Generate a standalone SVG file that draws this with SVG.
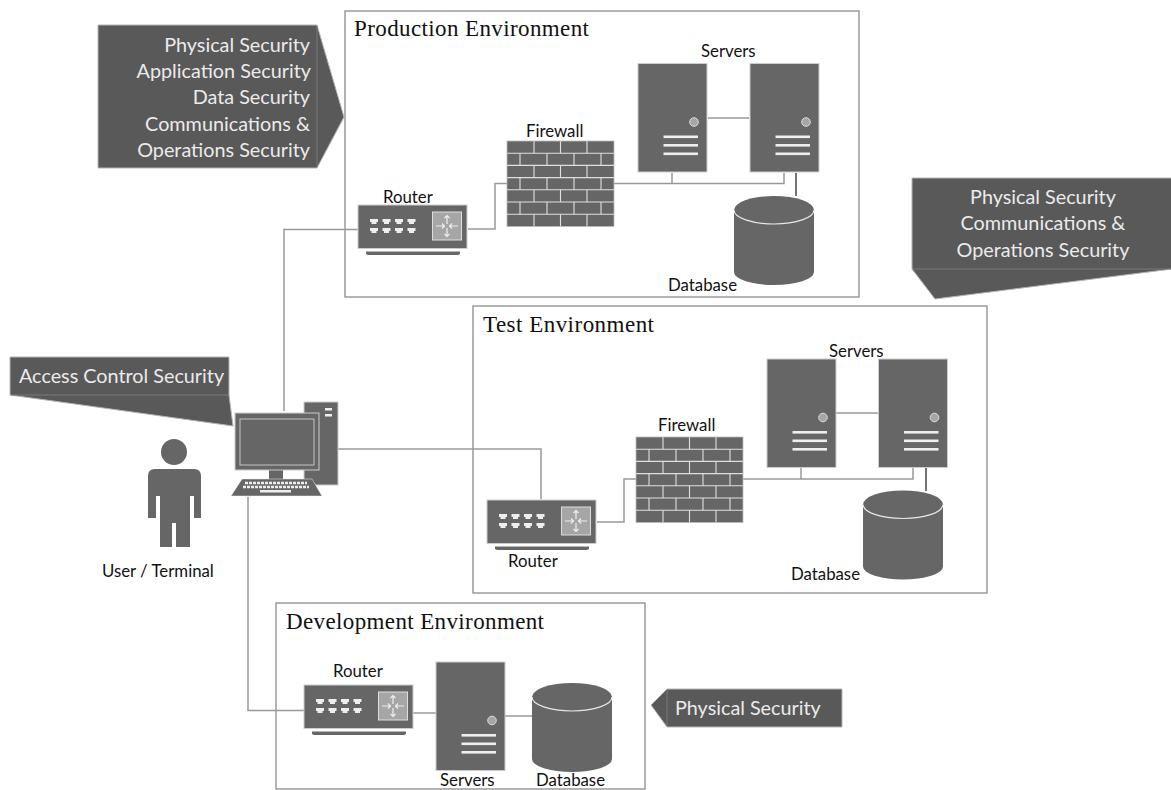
<svg xmlns="http://www.w3.org/2000/svg" width="1171" height="790" viewBox="0 0 1171 790">
<style>
.box{fill:#fff;stroke:#8c8c8c;stroke-width:1.3}
.title{font-family:"Liberation Serif",serif;font-size:23px;fill:#111}
.lbl{font-family:Lato,"Liberation Sans",sans-serif;font-size:16.800px;fill:#111}
.call{fill:#595959;stroke:#b5b5b5;stroke-width:1}
.div{fill:none;stroke:#7a7a7a;stroke-width:1}
.ct{font-family:Lato,"Liberation Sans",sans-serif;font-size:19.800px;fill:#ebebeb}
.cn{fill:none;stroke:#999;stroke-width:1.500}
.cd{fill:none;stroke:#444;stroke-width:1.500}
.d{fill:#666}
.de{fill:#666;stroke:#ccc;stroke-width:1}
.w{fill:#eee}
.wl{fill:none;stroke:#eee;stroke-width:1.200}
</style>
<defs>
<g id="server">
<rect class="de" width="69" height="108.500"/>
<circle cx="56" cy="58.500" r="4.300" fill="#a6a6a6" stroke="#ddd"/>
<rect class="w" x="25.500" y="72" width="34.500" height="2.600"/>
<rect class="w" x="25.500" y="80.500" width="34.500" height="2.600"/>
<rect class="w" x="25.500" y="89" width="34.500" height="2.600"/>
</g>
<g id="db">
<path class="d" d="M0 14A40 14 0 0 1 80 14V76A40 13 0 0 1 0 76Z"/>
<path d="M0 14A40 14 0 0 0 80 14" fill="none" stroke="#e8e8e8" stroke-width="1.200"/>
</g>
<g id="port"><path class="w" d="M0 0H8V3L6.500 3V5H1.500V3H0Z"/></g>
<g id="router">
<rect class="de" width="109" height="43.500"/>
<path d="M8 46.500H102V49L100 50H10L8 49Z" fill="#666"/>
<use href="#port" x="12" y="14"/><use href="#port" x="24.500" y="14"/><use href="#port" x="37" y="14"/><use href="#port" x="49.500" y="14"/>
<use href="#port" x="12" y="23"/><use href="#port" x="24.500" y="23"/><use href="#port" x="37" y="23"/><use href="#port" x="49.500" y="23"/>
<rect x="74.500" y="7" width="29" height="28" fill="#a6a6a6" stroke="#ddd" stroke-width="1"/>
<path class="wl" d="M89 19V11M86.500 13L89 10.500L91.500 13M89 23V31M86.500 29L89 31.500L91.500 29M78 21H86M84 18.500L86.500 21L84 23.500M100 21H92M94 18.500L91.500 21L94 23.500"/>
</g>
<g id="wall">
<rect class="d" width="107" height="85.500"/>
<path d="M0 12.200H107M0 24.400H107M0 36.600H107M0 48.800H107M0 61H107M0 73.200H107" stroke="#e0e0e0" stroke-width="1.100"/>
<path d="M27 0V12.200M53.500 0V12.200M80 0V12.200M27 24.400V36.600M53.500 24.400V36.600M80 24.400V36.600M27 48.800V61M53.500 48.800V61M80 48.800V61M27 73.200V85.500M53.500 73.200V85.500M80 73.200V85.500M13 12.200V24.400M40 12.200V24.400M67 12.200V24.400M94 12.200V24.400M13 36.600V48.800M40 36.600V48.800M67 36.600V48.800M94 36.600V48.800M13 61V73.200M40 61V73.200M67 61V73.200M94 61V73.200" stroke="#e0e0e0" stroke-width="1.100"/>
<rect width="107" height="85.500" fill="none" stroke="#bbb" stroke-width="0.800"/>
</g>
</defs>

<g id="production-box"><rect class="box" x="345" y="11" width="514" height="286"/><text class="title" x="354" y="36" textLength="235">Production Environment</text></g>
<g id="test-box"><rect class="box" x="473" y="306" width="514" height="287"/><text class="title" x="483" y="332" textLength="171">Test Environment</text></g>
<g id="development-box"><rect class="box" x="276" y="603" width="369" height="186"/><text class="title" x="286" y="629" textLength="258">Development Environment</text></g>

<g id="connectors">
<path class="cn" d="M284 411V229.500H358"/>
<path class="cn" d="M338 449H541V499"/>
<path class="cn" d="M248 497V710.500H304"/>
<path class="cn" d="M468 229H495V183.500H507"/>
<path class="cn" d="M614 183.500H784V173M672 183.500V173"/>
<path class="cn" d="M708 118H749"/>
<path class="cd" d="M796 173V196"/>
<path class="cn" d="M597 522H624V479H636"/>
<path class="cn" d="M743 479H913V468M801 479V468"/>
<path class="cn" d="M836 413H878"/>
<path class="cd" d="M926 468V491"/>
<path class="cn" d="M413 713H436"/>
<path class="cn" d="M505 716H532"/>
</g>

<g id="callout-production"><path class="call" d="M98 25H317L344 117L317 168H98Z"/><path class="div" d="M317 26V167"/>
<g class="ct" text-anchor="end"><text x="310" y="52">Physical Security</text><text x="311" y="78">Application Security</text><text x="310" y="104">Data Security</text><text x="310" y="131">Communications &amp;</text><text x="310" y="157">Operations Security</text></g></g>
<g id="callout-test"><path class="call" d="M1172 178H912V269L935 299L1172 269Z"/><path class="div" d="M913 269H1171"/>
<g class="ct" text-anchor="middle"><text x="1043" y="204">Physical Security</text><text x="1043" y="230">Communications &amp;</text><text x="1043" y="257">Operations Security</text></g></g>
<g id="callout-access"><path class="call" d="M10 357H229V395L233 426L10 395Z"/><path class="div" d="M11 395H229"/><text class="ct" x="19" y="383">Access Control Security</text></g>
<g id="callout-physical"><path class="call" d="M667 689H842V727H667L651 705Z"/><path class="div" d="M667 690V726"/><text class="ct" x="675" y="715">Physical Security</text></g>

<g id="router-prod"><use href="#router" x="358" y="205"/><text class="lbl" x="383" y="203">Router</text></g>
<g id="firewall-prod"><use href="#wall" x="507" y="141"/><text class="lbl" x="526" y="137">Firewall</text></g>
<g id="servers-prod"><use href="#server" x="638" y="63.500"/><use href="#server" x="750" y="63.500"/><text class="lbl" x="701" y="57">Servers</text></g>
<g id="database-prod"><use href="#db" x="734" y="196"/><text class="lbl" x="668" y="291">Database</text></g>

<g id="router-test"><use href="#router" x="487" y="500"/><text class="lbl" x="508" y="567">Router</text></g>
<g id="firewall-test"><use href="#wall" x="636" y="437"/><text class="lbl" x="658" y="431">Firewall</text></g>
<g id="servers-test"><use href="#server" x="767" y="359"/><use href="#server" x="878.500" y="359"/><text class="lbl" x="829" y="357">Servers</text></g>
<g id="database-test"><use href="#db" x="863" y="490.500"/><text class="lbl" x="791" y="580">Database</text></g>

<g id="router-dev"><use href="#router" x="304" y="685"/><text class="lbl" x="333" y="677">Router</text></g>
<g id="servers-dev"><use href="#server" x="436" y="662"/><text class="lbl" x="440" y="786">Servers</text></g>
<g id="database-dev"><use href="#db" x="532" y="683"/><text class="lbl" x="536" y="786">Database</text></g>

<g id="terminal">
<rect class="de" x="304" y="402" width="34" height="83"/>
<rect class="w" x="325" y="408" width="7" height="2.500"/><rect class="w" x="325" y="414" width="7" height="2.500"/>
<rect x="269" y="470" width="14" height="10" fill="#666"/>
<rect class="de" x="235" y="413" width="84" height="57"/>
<rect x="240" y="419" width="74" height="46" fill="#666" stroke="#c4c4c4" stroke-width="1"/>
<path d="M242 479H312L322 496H231Z" fill="#666" stroke="#eee" stroke-width="0.500"/>
<path d="M245 483H307M243 487H309" stroke="#eee" stroke-width="2.600" stroke-dasharray="3 1" fill="none"/>
<rect class="w" x="260" y="490" width="31" height="2.500"/>
</g>
<g id="user">
<circle class="d" cx="174" cy="452" r="13"/>
<path class="d" d="M155 469H194Q201 469 201 476V518H194V496H190V547H176V523H172V547H160V496H156V518H148V476Q148 469 155 469Z"/>
<text class="lbl" x="102" y="577">User / Terminal</text>
</g>
</svg>
